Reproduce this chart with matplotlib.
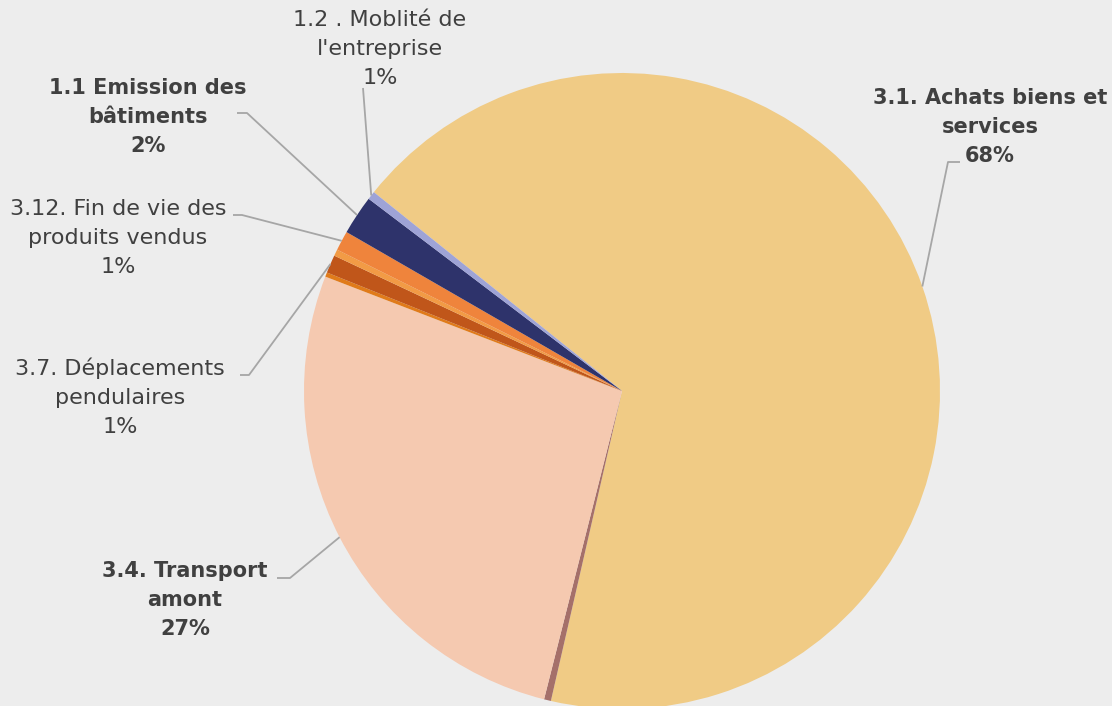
import numpy as np
import matplotlib.pyplot as plt

# slices, clockwise from the top-left edge of the big slice
categories = ["3.1. Achats biens et services", "autre a", "3.4. Transport amont",
              "autre b", "3.7. Déplacements pendulaires", "autre c",
              "3.12. Fin de vie des produits vendus", "1.1 Emission des bâtiments",
              "1.2 . Moblité de l'entreprise"]
shares = [67.8, 0.35, 26.9, 0.22, 0.92, 0.33, 1.0, 2.0, 0.42]
colors = ["#F0CB85", "#A5706A", "#F5C9B0", "#E07B1A", "#C0561A", "#F29B45",
          "#EF843C", "#2E336B", "#9EA3D6"]

# label text, bold or not, which slice it belongs to
label_texts = ["3.1. Achats biens et\nservices\n68%",
               "3.4. Transport\namont\n27%",
               "3.7. Déplacements\npendulaires\n1%",
               "3.12. Fin de vie des\nproduits vendus\n1%",
               "1.1 Emission des\nbâtiments\n2%",
               "1.2 . Moblité de\nl'entreprise\n1%"]
label_slice = [0, 2, 4, 6, 7, 8]
label_bold = [True, True, False, False, True, False]

W, H = 1112, 706
BG = "#EDEDED"
TXT = "#404040"
LINE = "#A6A6A6"

fig = plt.figure(figsize=(W / 100, H / 100), dpi=100, facecolor=BG)
ax = fig.add_axes([0, 0, 1, 1])
ax.set_facecolor(BG)

cx, cy, r = 622, H - 391, 318
wedges, _ = ax.pie(shares, colors=colors, startangle=141.3, counterclock=False,
                   center=(cx, cy), radius=r, frame=True,
                   wedgeprops=dict(linewidth=0, edgecolor="none"))
ax.set_xlim(0, W)
ax.set_ylim(0, H)
ax.axis("off")

# text block centre (px from top), elbow and stub end of the leader line
label_pos = [(990, 127), (185, 600), (120, 397), (118, 238), (148, 117), (380, 49)]
elbows = [(948, 162), (290, 578), (249, 375), (242, 215), (247, 113), (363, 88)]
stub_ends = [(960, 162), (277, 578), (240, 375), (233, 215), (237, 113), (363, 88)]

for txt, si, bold, pos, elb, stub in zip(label_texts, label_slice, label_bold,
                                         label_pos, elbows, stub_ends):
    w = wedges[si]
    mid = np.deg2rad((w.theta1 + w.theta2) / 2)
    x0 = cx + r * np.cos(mid)
    y0 = cy + r * np.sin(mid)
    ax.plot([x0, elb[0], stub[0]], [y0, H - elb[1], H - stub[1]],
            color=LINE, lw=1.3, solid_capstyle="butt", zorder=3)
    ax.text(pos[0], H - pos[1], txt, ha="center", va="center",
            fontsize=15 if bold else 16, color=TXT, family="DejaVu Sans",
            fontweight="bold" if bold else "normal",
            linespacing=1.55)

fig.savefig("out.png", dpi=100, facecolor=BG)
